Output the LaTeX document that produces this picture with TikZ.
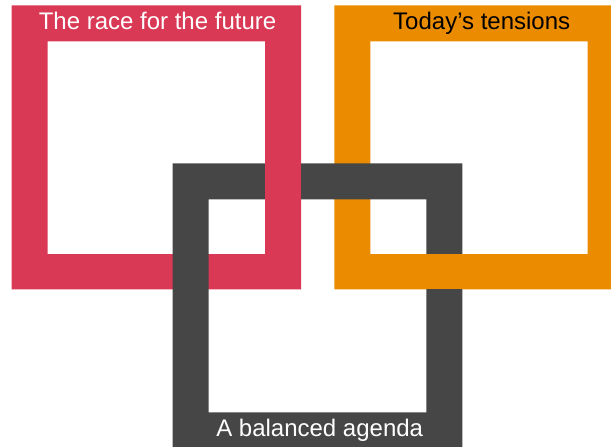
\documentclass[tikz,border=0pt]{standalone}
\usepackage{fontspec}
\setmainfont{Liberation Sans}
\definecolor{rosered}{HTML}{D93954}
\definecolor{tangerine}{HTML}{EB8C00}
\definecolor{charcoal}{HTML}{464646}

\begin{document}
\begin{tikzpicture}[x=1pt, y=-1pt,
            frame/.style = {fill = #1, even odd rule},
            title/.style = {anchor = base, font = \fontsize{24}{26}\selectfont, inner sep = 0pt}]
            \useasboundingbox (0,0) rectangle (611,447);
            \clip (0,0) rectangle (611,447);
            % three frames
            \fill[frame = rosered] (11.7,5.3) rectangle (301,289.3) (47.7,41.3) rectangle (265,254);
            \fill[frame = tangerine] (334.3,5.3) rectangle (623.7,289.3) (370.3,41.3) rectangle (587.7,254);
            \fill[frame = charcoal] (172.7,163.3) rectangle (462.3,448.3) (208.7,199.3) rectangle (426.3,412.3);
            % links passing over the grey frame
            \fill[rosered] (265,162.6) rectangle (301,200);
            \fill[tangerine] (425.6,254) rectangle (463,289.3);
            % titles
            \node[title, text = white] (future) at (157.5,29.3) {The race for the future};
            \node[title, text = black] (tensions) at (481.7,29.3) {Today’s tensions};
            \node[title, text = white] (agenda) at (319.7,436.7) {A balanced agenda};
        \end{tikzpicture}
\end{document}
